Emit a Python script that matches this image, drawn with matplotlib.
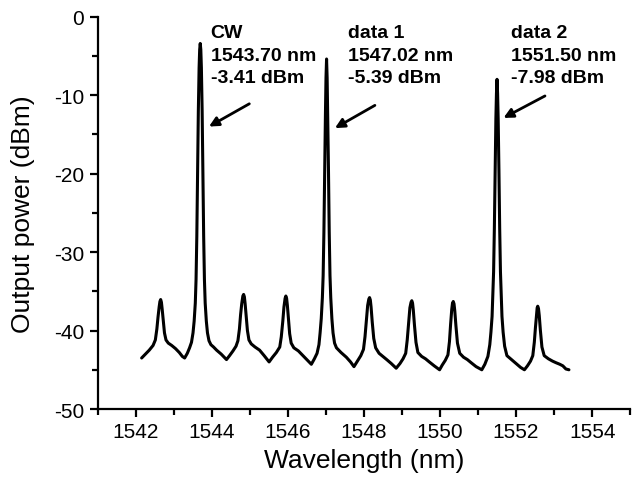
import matplotlib
matplotlib.use("Agg")
import matplotlib.pyplot as plt
from matplotlib.ticker import MultipleLocator

plt.rcParams['font.family'] = ['Liberation Sans', 'DejaVu Sans']
plt.rcParams['axes.unicode_minus'] = False

# spectrum (wavelength in nm, power in dBm)
wavelength = [
    # side peak 1542.66
    1542.16, 1542.26, 1542.36, 1542.46, 1542.52, 1542.56, 1542.59, 1542.62, 1542.64, 1542.66,
    1542.68, 1542.70, 1542.73, 1542.76, 1542.80, 1542.86, 1542.95, 1543.05, 1543.15, 1543.23,
    # CW 1543.70
    1543.29, 1543.36, 1543.42, 1543.47, 1543.51, 1543.54, 1543.57, 1543.59, 1543.61, 1543.63,
    1543.65, 1543.67, 1543.685, 1543.70, 1543.715, 1543.73, 1543.75, 1543.77, 1543.79, 1543.81,
    1543.83, 1543.86, 1543.89, 1543.93, 1543.98, 1544.05, 1544.13, 1544.25,
    # side peak 1544.84
    1544.39, 1544.47, 1544.56, 1544.64, 1544.69, 1544.73, 1544.76, 1544.79, 1544.82, 1544.84,
    1544.86, 1544.88, 1544.91, 1544.94, 1544.98, 1545.04, 1545.14, 1545.26, 1545.38,
    # side peak 1545.95
    1545.51, 1545.60, 1545.70, 1545.79, 1545.83, 1545.87, 1545.90, 1545.93, 1545.95, 1545.97,
    1545.99, 1546.02, 1546.05, 1546.09, 1546.16, 1546.28, 1546.40, 1546.52,
    # data 1 1547.02
    1546.62, 1546.70, 1546.77, 1546.82, 1546.85, 1546.88, 1546.91, 1546.93, 1546.95, 1546.97,
    1546.99, 1547.005, 1547.02, 1547.035, 1547.05, 1547.07, 1547.09, 1547.11, 1547.13, 1547.16,
    1547.19, 1547.23, 1547.28, 1547.40, 1547.54, 1547.65,
    # side peak 1548.15
    1547.74, 1547.83, 1547.92, 1547.99, 1548.03, 1548.07, 1548.10, 1548.13, 1548.15, 1548.17,
    1548.19, 1548.22, 1548.26, 1548.31, 1548.40, 1548.50, 1548.60, 1548.72,
    # side peak 1549.26
    1548.85, 1548.95, 1549.03, 1549.10, 1549.14, 1549.18, 1549.21, 1549.24, 1549.26, 1549.28,
    1549.30, 1549.33, 1549.37, 1549.42, 1549.52, 1549.62, 1549.72, 1549.85,
    # side peak 1550.35
    1549.99, 1550.06, 1550.14, 1550.21, 1550.25, 1550.28, 1550.31, 1550.33, 1550.35, 1550.37,
    1550.39, 1550.42, 1550.46, 1550.52, 1550.62, 1550.72, 1550.82, 1550.95,
    # data 2 1551.50
    1551.10, 1551.18, 1551.26, 1551.31, 1551.34, 1551.37, 1551.39, 1551.41, 1551.43, 1551.45,
    1551.47, 1551.485, 1551.50, 1551.515, 1551.53, 1551.55, 1551.57, 1551.59, 1551.61, 1551.63,
    1551.66, 1551.70, 1551.76, 1551.88, 1552.00, 1552.12,
    # side peak 1552.57
    1552.22, 1552.30, 1552.38, 1552.44, 1552.48, 1552.51, 1552.54, 1552.555, 1552.57, 1552.59,
    1552.61, 1552.64, 1552.68, 1552.74, 1552.85, 1552.96, 1553.05, 1553.15, 1553.23, 1553.31,
    1553.39,
]
power = [
    -43.5, -43.0, -42.5, -41.9, -41.2, -39.8, -38.3, -37.0, -36.3, -36.05,
    -36.4, -37.3, -38.8, -40.3, -41.2, -41.6, -41.9, -42.3, -42.8, -43.3,
    -43.5, -42.9, -42.2, -41.5, -40.3, -38.8, -36.5, -33.5, -28.0, -20.0,
    -12.0, -6.5, -4.2, -3.41, -4.2, -6.5, -12.0, -20.0, -28.0, -33.5,
    -36.5, -38.8, -40.3, -41.3, -41.8, -42.1, -42.5, -43.0,
    -43.7, -43.2, -42.6, -42.0, -41.3, -39.8, -38.0, -36.6, -35.6, -35.4,
    -35.7, -36.6, -38.3, -40.0, -41.2, -41.7, -42.1, -42.5, -43.2,
    -44.0, -43.4, -42.8, -42.1, -40.8, -38.8, -37.0, -35.9, -35.6, -35.9,
    -36.8, -38.6, -40.4, -41.6, -42.2, -42.6, -43.2, -43.8,
    -44.3, -43.6, -42.9, -41.8, -40.3, -38.5, -35.8, -33.0, -27.5, -19.5,
    -12.5, -7.8, -5.39, -7.8, -12.5, -19.5, -27.5, -33.0, -35.8, -38.5,
    -40.3, -41.6, -42.2, -42.8, -43.4, -44.0,
    -44.6, -43.9, -43.2, -42.4, -40.8, -38.6, -36.8, -36.0, -35.8, -36.1,
    -37.0, -38.9, -41.0, -42.2, -42.9, -43.3, -43.7, -44.2,
    -44.8, -44.2, -43.6, -42.9, -41.2, -38.9, -37.1, -36.4, -36.2, -36.5,
    -37.4, -39.3, -41.5, -42.8, -43.3, -43.6, -44.0, -44.5,
    -45.0, -44.4, -43.8, -43.1, -41.4, -39.2, -37.3, -36.5, -36.3, -36.6,
    -37.5, -39.4, -41.6, -42.9, -43.4, -43.7, -44.1, -44.6,
    -45.0, -44.3, -43.3, -41.8, -40.2, -38.2, -35.5, -32.5, -27.0, -19.5,
    -13.0, -9.8, -7.98, -9.8, -13.0, -19.5, -27.0, -32.5, -35.5, -38.2,
    -40.2, -42.0, -43.2, -43.7, -44.2, -44.7,
    -45.0, -44.5, -43.9, -43.2, -41.5, -39.6, -37.9, -37.1, -36.9, -37.2,
    -38.1, -40.0, -42.1, -43.2, -43.6, -43.9, -44.1, -44.3, -44.5, -44.9,
    -45.0,
]

label_lines = [
    ("CW", "1543.70 nm", "-3.41 dBm"),
    ("data 1", "1547.02 nm", "-5.39 dBm"),
    ("data 2", "1551.50 nm", "-7.98 dBm"),
]
text_x = [1543.97, 1547.59, 1551.86]
arrow_tail = [(1544.99, -11.1), (1548.29, -11.3), (1552.76, -10.1)]
arrow_head = [(1543.93, -14.0), (1547.24, -14.2), (1551.67, -12.9)]

fig = plt.figure(figsize=(6.34, 4.81), dpi=100)
ax = fig.add_axes([0.1538, 0.1476, 0.8402, 0.8156])

ax.plot(wavelength, power, color='black', lw=2.2,
        solid_joinstyle='round', solid_capstyle='round')

for lines, tx, tail, head in zip(label_lines, text_x, arrow_tail, arrow_head):
    ax.text(tx, -0.9, "\n".join(lines), fontsize=14, fontweight='bold',
            ha='left', va='top', linespacing=1.45)
    ax.annotate("", xy=head, xytext=tail,
                arrowprops=dict(arrowstyle='-|>', color='black', lw=2,
                                mutation_scale=14, shrinkA=0, shrinkB=0))

ax.set_xlim(1541, 1555)
ax.set_ylim(-50, 0)
ax.xaxis.set_major_locator(MultipleLocator(2))
ax.xaxis.set_minor_locator(MultipleLocator(1))
ax.yaxis.set_major_locator(MultipleLocator(10))
ax.yaxis.set_minor_locator(MultipleLocator(5))
ax.spines['top'].set_visible(False)
ax.spines['right'].set_visible(False)
for s in ('left', 'bottom'):
    ax.spines[s].set_linewidth(1.6)
ax.tick_params(which='major', direction='out', length=6, width=1.6, labelsize=15)
ax.tick_params(which='minor', direction='out', length=4, width=1.6)
ax.set_xlabel('Wavelength (nm)', fontsize=19, labelpad=5)
ax.set_ylabel('Output power (dBm)', fontsize=19, labelpad=14)

fig.savefig('out.png', dpi=100)
